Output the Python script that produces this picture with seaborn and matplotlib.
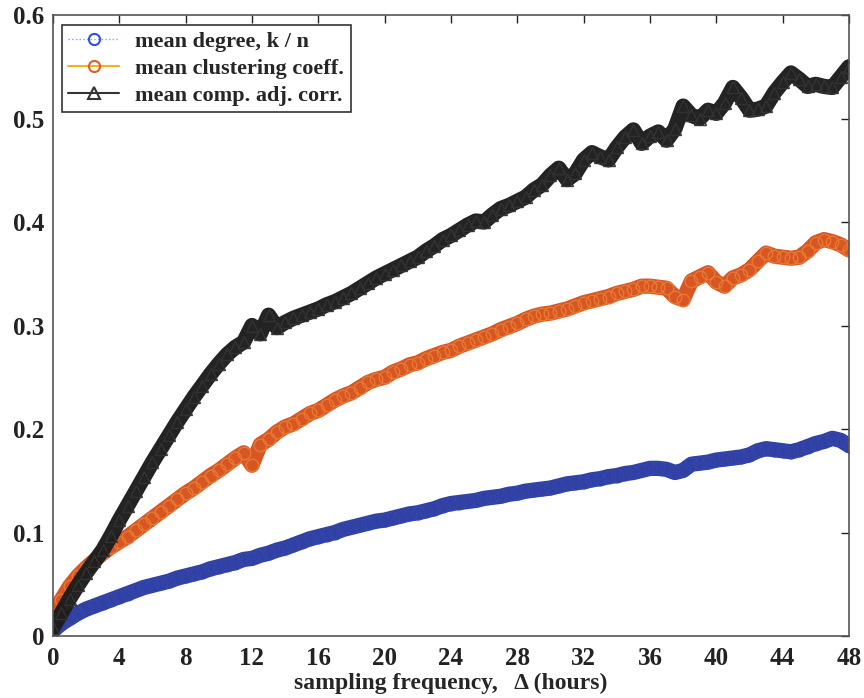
import numpy as np
import pandas as pd
import matplotlib
matplotlib.use("Agg")
import matplotlib.pyplot as plt
from matplotlib.lines import Line2D
import seaborn as sns

# ---- data ----
hours = [i * 0.5 for i in range(97)]

mean_degree = [
    0.005, 0.012, 0.017, 0.022, 0.026, 0.029, 0.032, 0.035, 0.038, 0.041,
    0.044, 0.047, 0.049, 0.051, 0.053, 0.056, 0.058, 0.060, 0.062, 0.065,
    0.067, 0.069, 0.071, 0.074, 0.075, 0.078, 0.080, 0.083, 0.085, 0.088,
    0.091, 0.094, 0.096, 0.098, 0.100, 0.103, 0.105, 0.107, 0.109, 0.111,
    0.112, 0.114, 0.116, 0.118, 0.119, 0.121, 0.123, 0.126, 0.128, 0.129,
    0.130, 0.131, 0.133, 0.134, 0.135, 0.137, 0.138, 0.140, 0.141, 0.142,
    0.143, 0.145, 0.147, 0.148, 0.149, 0.151, 0.152, 0.154, 0.155, 0.157,
    0.158, 0.160, 0.162, 0.162, 0.161, 0.158, 0.160, 0.166, 0.167, 0.168,
    0.170, 0.171, 0.172, 0.173, 0.175, 0.179, 0.181, 0.180, 0.179, 0.178,
    0.180, 0.183, 0.186, 0.188, 0.191, 0.189, 0.184,
]

mean_clustering = [
    0.020, 0.035, 0.048, 0.058, 0.066, 0.073, 0.080, 0.086, 0.091, 0.096,
    0.102, 0.108, 0.114, 0.120, 0.126, 0.132, 0.138, 0.143, 0.149, 0.155,
    0.160, 0.166, 0.172, 0.177, 0.165, 0.185, 0.190, 0.197, 0.202, 0.205,
    0.210, 0.215, 0.218, 0.223, 0.228, 0.232, 0.235, 0.240, 0.245, 0.248,
    0.250, 0.255, 0.258, 0.262, 0.264, 0.268, 0.271, 0.274, 0.276, 0.280,
    0.283, 0.286, 0.289, 0.292, 0.296, 0.299, 0.302, 0.306, 0.309, 0.311,
    0.312, 0.314, 0.316, 0.319, 0.322, 0.324, 0.326, 0.328, 0.331, 0.333,
    0.335, 0.338, 0.338, 0.337, 0.336, 0.328, 0.325, 0.343, 0.347, 0.351,
    0.342, 0.338, 0.346, 0.349, 0.354, 0.362, 0.370, 0.367, 0.366, 0.365,
    0.366, 0.372, 0.380, 0.383, 0.381, 0.378, 0.373,
]

mean_comp_adj_corr = [
    0.008, 0.022, 0.036, 0.049, 0.061, 0.072, 0.083, 0.097, 0.112, 0.126,
    0.140, 0.154, 0.168, 0.181, 0.194, 0.207, 0.219, 0.231, 0.242, 0.253,
    0.263, 0.272, 0.279, 0.284, 0.300, 0.292, 0.310, 0.298, 0.303, 0.307,
    0.310, 0.313, 0.316, 0.320, 0.323, 0.327, 0.331, 0.336, 0.341, 0.346,
    0.350, 0.354, 0.358, 0.362, 0.366, 0.372, 0.377, 0.383, 0.387, 0.392,
    0.397, 0.401, 0.400, 0.407, 0.413, 0.416, 0.420, 0.424, 0.431, 0.436,
    0.445, 0.452, 0.441, 0.447, 0.460, 0.467, 0.463, 0.460, 0.472, 0.482,
    0.489, 0.476, 0.483, 0.487, 0.479, 0.490, 0.512, 0.503, 0.500, 0.508,
    0.505, 0.515, 0.530, 0.520, 0.508, 0.509, 0.512, 0.525, 0.535, 0.544,
    0.538, 0.531, 0.533, 0.531, 0.530, 0.540, 0.550,
]

labels = ["mean degree, k / n", "mean clustering coeff.", "mean comp. adj. corr."]
x_ticks = list(range(0, 49, 4))
y_ticks = [0, 0.1, 0.2, 0.3, 0.4, 0.5, 0.6]
y_tick_labels = ["0", "0.1", "0.2", "0.3", "0.4", "0.5", "0.6"]

# ---- style ----
sns.set_style("white")
plt.rcParams["font.family"] = ["Liberation Serif", "DejaVu Serif"]
plt.rcParams["font.weight"] = "bold"

fig = plt.figure(figsize=(8.64, 6.98), dpi=100)
ax = fig.add_axes([0.0613, 0.0888, 0.9213, 0.8897])

df = pd.DataFrame({"hours": hours, "deg": mean_degree,
                   "clu": mean_clustering, "corr": mean_comp_adj_corr})

series = [
    ("deg", "#2a3a9e", "o", "#3246b0"),
    ("clu", "#d6501d", "o", "#e87a30"),
    ("corr", "#1c1c1c", "^", "#333333"),
]
for col, band, mk, edge in series:
    sns.lineplot(data=df, x="hours", y=col, ax=ax, color=band, lw=11,
                 marker=mk, markersize=9, markerfacecolor="none",
                 markeredgecolor=edge, markeredgewidth=1.0, alpha=0.97)

ax.set_xlim(0, 48)
ax.set_ylim(0, 0.6)
ax.set_xticks(x_ticks)
ax.set_xticklabels([str(t) for t in x_ticks])
ax.set_yticks(y_ticks)
ax.set_yticklabels(y_tick_labels)
ax.tick_params(direction="in", length=6, width=1, top=True, right=True,
               labelsize=18, colors="#222222")
ax.tick_params(axis="x", pad=8)
ax.tick_params(axis="y", pad=6)
for lab in ax.get_xticklabels() + ax.get_yticklabels():
    lab.set_fontweight("bold")
for s in ax.spines.values():
    s.set_color("#555555")
    s.set_linewidth(1.2)

ax.set_xlabel("sampling frequency,   \u0394 (hours)", fontsize=17,
              fontweight="bold", labelpad=2)
ax.set_ylabel("")

handles = [
    Line2D([0], [0], color="#7da0ff", lw=1, ls=":", marker="o", markersize=8,
           markerfacecolor="none", markeredgecolor="#3050e0", markeredgewidth=1.5),
    Line2D([0], [0], color="#f5b020", lw=1.5, marker="o", markersize=8,
           markerfacecolor="none", markeredgecolor="#e06020", markeredgewidth=1.5),
    Line2D([0], [0], color="#333333", lw=1.5, marker="^", markersize=8,
           markerfacecolor="none", markeredgecolor="#333333", markeredgewidth=1.5),
]
leg = ax.legend(handles, labels, loc="upper left", bbox_to_anchor=(0.011, 0.984),
                borderaxespad=0, fancybox=False, framealpha=1, edgecolor="#333333",
                prop={"family": "Liberation Serif", "weight": "bold", "size": 16},
                handlelength=2.3, handletextpad=0.7, labelspacing=0.28, borderpad=0.3)
leg.get_frame().set_linewidth(1.2)

fig.savefig("out.png", dpi=100)
